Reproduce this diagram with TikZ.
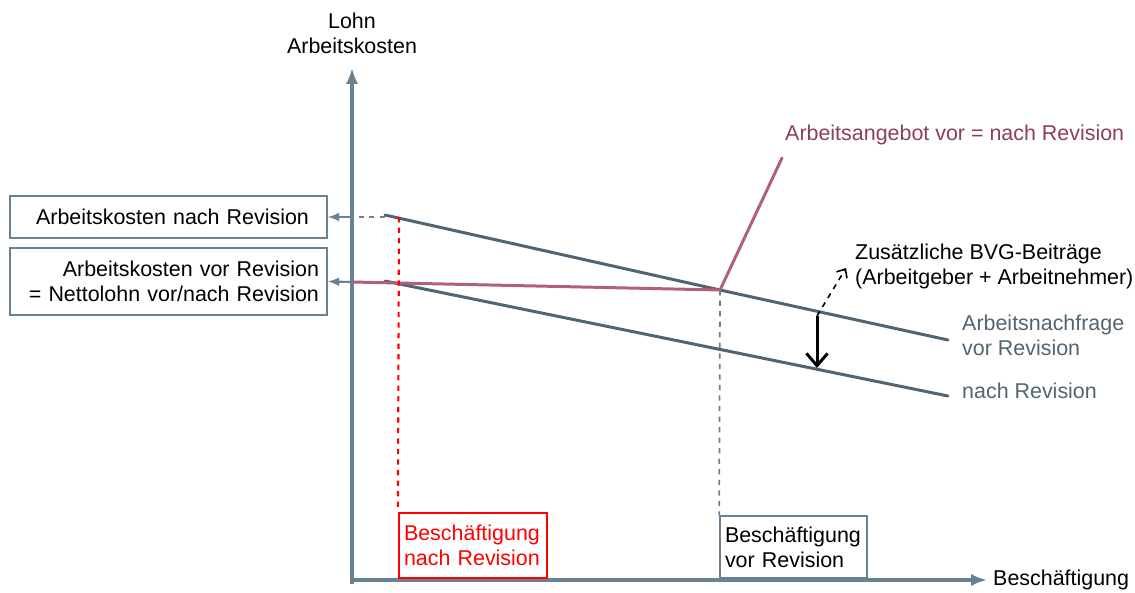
\documentclass[tikz,border=0pt]{standalone}
\usepackage{fontspec}
\setmainfont{Liberation Sans}
\usetikzlibrary{arrows.meta}
\definecolor{achse}{RGB}{104,130,148}
\definecolor{nachfr}{RGB}{80,100,114}
\definecolor{angebot}{RGB}{176,96,122}
\definecolor{angtext}{RGB}{140,62,92}
\begin{document}
\begin{tikzpicture}[x=0.02cm,y=-0.02cm,font=\fontsize{12.2}{14.2}\selectfont,
  kasten/.style={draw=achse,line width=1pt,inner sep=0pt},
  kurve/.style={line width=1.7pt,line cap=round}]
\useasboundingbox (0,0) rectangle (1135,592);
% axes
\draw[achse,line width=2.6pt,-{Latex[length=9pt,width=7pt]}] (352,584) -- (352,68) coordinate (ytop);
\draw[achse,line width=2.6pt,-{Latex[length=9pt,width=7pt]}] (350,580) coordinate (o) -- (987,580) coordinate (xend);
\node[anchor=south,align=center] (ylab) at (352,60) {Lohn\\Arbeitskosten};
\node[anchor=west] (xlab) at (xend) {Beschäftigung};
% demand curves
\draw[kurve,nachfr] (385,215) coordinate (d1) -- (720,290) coordinate (gg) -- (948,340) coordinate (d1e);
\draw[kurve,nachfr] (385,281) coordinate (d2) -- (948,396) coordinate (d2e);
% supply
\draw[kurve,angebot] (352,282) coordinate (s0) -- (gg) -- (782,158) coordinate (s1);
\node[angtext,anchor=west] (angeb) at (779,135) {Arbeitsangebot vor = nach Revision};
\node[nachfr,anchor=north west,align=left] (nvor) at (956,309) {Arbeitsnachfrage\\vor Revision};
\node[nachfr,anchor=west] (nnach) at (956,391) {nach Revision};
% boxes on the left
\node[kasten,minimum width=6.34cm,minimum height=0.84cm,text width=5.62cm,inner xsep=0.36cm,align=right] (kn) at (168.5,217) {Arbeitskosten nach Revision};
\node[kasten,minimum width=6.34cm,minimum height=1.34cm,text width=6.02cm,inner xsep=0.16cm,align=right] (kv) at (168.5,281.5) {Arbeitskosten vor Revision\\= Nettolohn vor/nach Revision};
\draw[achse,line width=1.2pt,dashed] (d1) ++(0,2) -- (352,217) coordinate (a1);
\draw[achse,line width=1.2pt,-latex] (a1) -- (kn.east);
\draw[achse,line width=1.2pt,-latex] (352,282) -- (kv.east);
% boxes on the x axis
\node[kasten,draw=red,text=red,line width=1.3pt,minimum width=2.96cm,minimum height=1.3cm,text width=2.76cm,inner xsep=0.1cm,align=left] (bn) at (473,545.5) {Beschäftigung\\nach Revision};
\node[kasten,minimum width=2.94cm,minimum height=1.24cm,text width=2.74cm,inner xsep=0.1cm,align=left] (bv) at (793.5,547) {Beschäftigung\\vor Revision};
\draw[red,line width=1.2pt,dashed] (399,217) -- (bn.north west);
\draw[achse,line width=1pt,dashed] (gg) -- (bv.north west);
% shift of demand
\draw[line width=1.7pt,-{Straight Barb[length=7pt,width=12pt]}] (817,316) coordinate (p1) -- (817,368) coordinate (p2);
\draw[dashed,line width=0.9pt,-{Straight Barb[length=4pt,width=7pt]}] (p1) -- (846,268) coordinate (p3);
\node[anchor=west,align=left] (bvg) at (849,266) {Zusätzliche BVG-Beiträge\\(Arbeitgeber + Arbeitnehmer)};
\end{tikzpicture}
\end{document}
